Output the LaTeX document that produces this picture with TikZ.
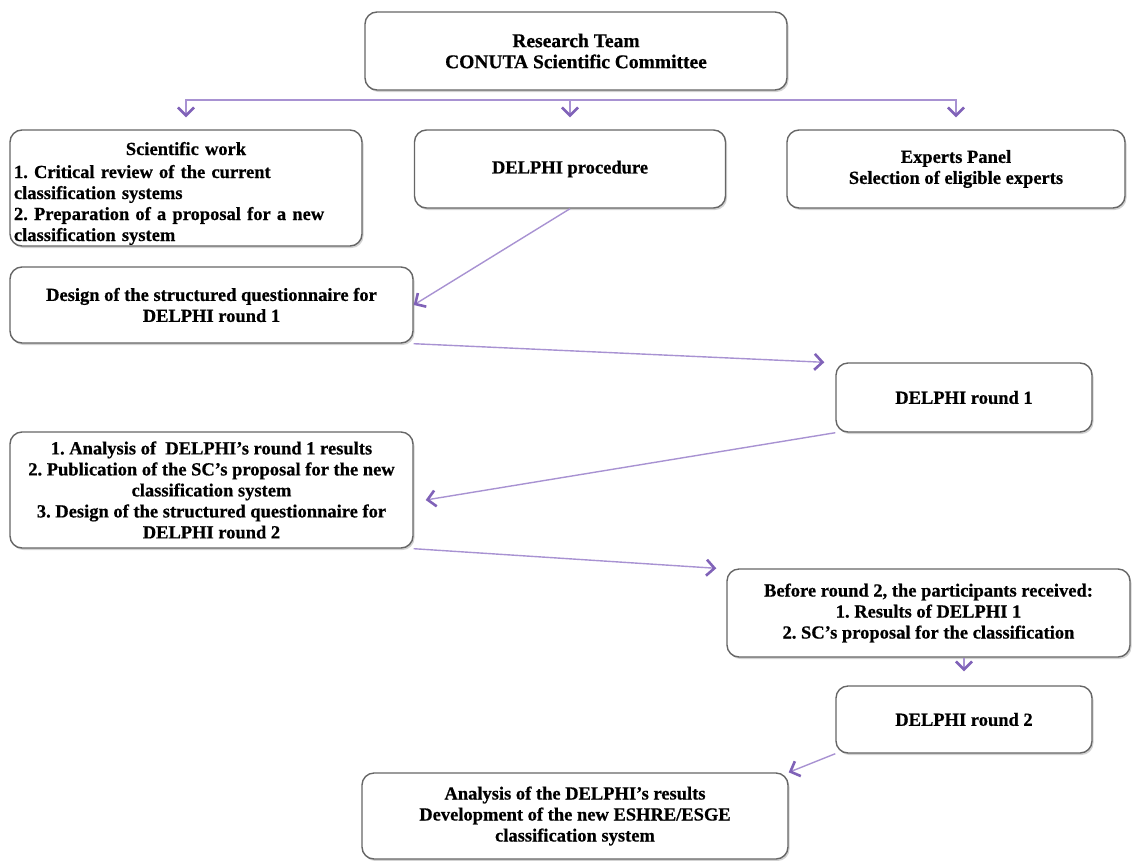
\documentclass[tikz,border=0pt]{standalone}
\usepackage{fontspec}
\setmainfont{Liberation Serif}[BoldFeatures={FakeBold=0.6}]
\usetikzlibrary{arrows.meta,shadows}
\definecolor{lineviolet}{RGB}{168,146,210}
\definecolor{tipviolet}{RGB}{128,98,184}

\begin{document}
\begin{tikzpicture}[x=1pt,y=-1pt]
    \tikzset{box/.style = {draw=black!60, line width=1.4pt, rounded corners=12pt, fill=white, align=center, inner sep=3pt, font=\fontsize{18.5}{21}\selectfont\bfseries\frenchspacing, drop shadow={opacity=0.35,shadow xshift=1.5pt,shadow yshift=-2pt}}}
    \tikzset{edge/.style = {-{Straight Barb[length=8pt,width=16pt,line width=2.6pt,color=tipviolet]}, draw=lineviolet, line width=1.4pt}}
    \useasboundingbox (0,0) rectangle (1132,860);
    % boxes
    \node[box, minimum width=422, minimum height=78, font=\fontsize{19.5}{21}\selectfont\bfseries] (team) at (576,51) {Research Team\\CONUTA Scientific Committee};

    \node[box, minimum width=352, minimum height=116, inner ysep=0pt, text width=344, align=left] (sci) at (186,188)
    {\hfill\rule{0pt}{24pt}Scientific work\hfill\null\\[2pt]1. Critical review of the current\\classification systems\\2. Preparation of a proposal for a new\\classification system};
    \node[box, minimum width=311, minimum height=78] (proc) at (570,169) {DELPHI procedure};
    \node[box, minimum width=338, minimum height=78] (experts) at (956,169) {Experts Panel\\Selection of eligible experts};
%%%%%%%%%%%%%%%%%
    \node[box, minimum width=403, minimum height=76] (design) at (211.5,305) {Design of the structured questionnaire for\\DELPHI round 1};
    \node[box, minimum width=256, minimum height=69] (round1) at (964,397.5) {DELPHI round 1};
    \node[box, minimum width=403, minimum height=116] (analysis) at (211.5,490)
    {1. Analysis of\ \ DELPHI's round 1 results\\2. Publication of the SC's proposal for the new\\classification system\\3. Design of the structured questionnaire for\\DELPHI round 2};
    \node[box, minimum width=403, minimum height=88] (before2) at (928.5,613)
    {Before round 2, the participants received:\\1. Results of DELPHI 1\\2. SC's proposal for the classification};
    \node[box, minimum width=256, minimum height=67] (round2) at (964,719.5) {DELPHI round 2};
    \node[box, minimum width=426, minimum height=86] (final) at (575,816)
    {Analysis of the DELPHI's results\\Development of the new ESHRE/ESGE\\classification system};
%%%%%%%%%%%%%%%%%
    % connectors
    \coordinate (split) at (570,100);
    \draw[edge, shorten >=12pt] (split) -| (sci);
    \draw[edge, shorten >=12pt] (split) -- (proc);
    \draw[edge, shorten >=12pt] (split) -| (experts);
    \draw[edge] (proc.south) -- (design.east);
    \draw[edge] (design.south east) -- ([xshift=-11pt]round1.north west);
    \draw[edge] (round1.south west) -- ([xshift=12pt,yshift=-10pt]analysis.east);
    \draw[edge] (analysis.south east) -- ([xshift=-10pt]before2.north west);
    \draw[edge, shorten >=14pt] (before2.south -| round2.north) -- (round2.north);
    \draw[edge] (round2.south west) -- (final.north east);

\end{tikzpicture}
\end{document}
